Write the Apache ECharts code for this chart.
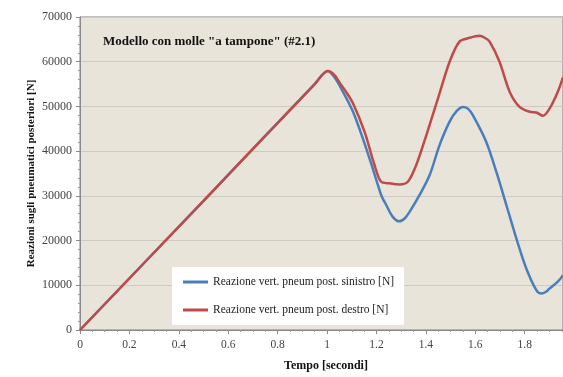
<!DOCTYPE html>
<html>
<head>
<meta charset="utf-8">
<script src="https://cdn.jsdelivr.net/npm/echarts@6/dist/echarts.min.js"></script>
<style>html,body{margin:0;padding:0;background:#fff}#c{width:563px;height:377px}</style>
</head>
<body>
<div id="c"></div>
<script>
const chartTitle = 'Modello con molle "a tampone" (#2.1)';
const xName = 'Tempo [secondi]';
const yName = 'Reazioni sugli pneumatici posteriori [N]';
const seriesNames = ['Reazione vert. pneum post. sinistro [N]', 'Reazione vert. pneum post. destro [N]'];

const tLeft = [0, 0.5, 0.95, 1.003, 1.03, 1.064, 1.105, 1.145, 1.185, 1.219, 1.24, 1.266, 1.293, 1.315, 1.334, 1.374, 1.415, 1.455, 1.496, 1.525, 1.55, 1.57, 1.59, 1.644, 1.685, 1.726, 1.766, 1.806, 1.847, 1.867, 1.885, 1.901, 1.934, 1.955];
const vLeft = [0, 28900, 55000, 57900, 56500, 53300, 48800, 42800, 36100, 30200, 27900, 25300, 24300, 25000, 26400, 30150, 34600, 41300, 46600, 49000, 49900, 49500, 48050, 42100, 35400, 27900, 20500, 13800, 8900, 8150, 8500, 9300, 10800, 12250];

const tRight = [0, 0.5, 0.95, 1.003, 1.03, 1.057, 1.08, 1.105, 1.152, 1.192, 1.219, 1.253, 1.293, 1.327, 1.361, 1.402, 1.449, 1.496, 1.536, 1.577, 1.617, 1.64, 1.658, 1.698, 1.739, 1.779, 1.82, 1.847, 1.874, 1.901, 1.934, 1.955];
const vRight = [0, 28900, 55000, 57900, 57000, 54800, 53000, 50700, 44300, 36900, 33150, 32800, 32550, 33150, 36900, 43600, 51800, 60000, 64500, 65350, 65800, 65300, 64500, 60000, 53300, 49900, 48800, 48650, 47900, 49550, 53300, 56500];

const pair = (ts, vs) => ts.map((t, i) => [t, vs[i]]);
const serif = '"Liberation Serif", "DejaVu Serif", serif';

const chart = echarts.init(document.getElementById('c'), null, {renderer: 'canvas'});
chart.setOption({
  backgroundColor: '#ffffff',
  animation: false,
  title: {
    text: chartTitle, left: 98, top: 30,
    textStyle: {fontFamily: serif, fontWeight: 'bold', fontSize: 13, color: '#111'}
  },
  grid: {
    left: 80, right: 0, top: 17, bottom: 45,
    show: true, backgroundColor: '#E8E4DA', borderColor: '#808080', borderWidth: 1
  },
  legend: {
    orient: 'vertical', left: 172, top: 267,
    backgroundColor: '#ffffff', padding: [8, 10, 8, 11], itemGap: 14,
    itemWidth: 25, itemHeight: 3, icon: 'rect',
    textStyle: {fontFamily: serif, fontSize: 11.5, color: '#222', lineHeight: 14},
    data: seriesNames
  },
  xAxis: {
    type: 'value', min: 0, max: 1.955, interval: 0.2,
    name: xName, nameLocation: 'middle', nameGap: 30, nameMoveOverlap: false,
    nameTextStyle: {fontFamily: serif, fontWeight: 'bold', fontSize: 12, color: '#111', padding: [0, 0, 0, 9]},
    axisLine: {show: true, lineStyle: {color: '#8a8a8a'}},
    axisTick: {show: true, length: 4, lineStyle: {color: '#8a8a8a'}},
    minorTick: {show: true, splitNumber: 4, length: 2, lineStyle: {color: '#999'}},
    axisLabel: {fontFamily: serif, fontSize: 11.5, color: '#444', margin: 9, showMaxLabel: false,
      formatter: v => String(Math.round(v * 10) / 10)},
    splitLine: {show: false}
  },
  yAxis: {
    type: 'value', min: 0, max: 70000, interval: 10000,
    name: yName, nameLocation: 'middle', nameGap: 43, nameMoveOverlap: false,
    nameTextStyle: {fontFamily: serif, fontWeight: 'bold', fontSize: 11, color: '#111'},
    axisLine: {show: true, lineStyle: {color: '#8a8a8a'}},
    axisTick: {show: true, length: 4, inside: false, lineStyle: {color: '#8a8a8a'}},
    minorTick: {show: true, splitNumber: 5, length: 2, lineStyle: {color: '#999'}},
    axisLabel: {fontFamily: serif, fontSize: 12, color: '#444', margin: 8, formatter: v => String(v)},
    splitLine: {show: true, lineStyle: {color: '#CFCBC1', width: 1}}
  },
  series: [
    {name: seriesNames[0], type: 'line', data: pair(tLeft, vLeft), symbol: 'none', smooth: 0.3,
     lineStyle: {color: '#4A7EBB', width: 2.5}, itemStyle: {color: '#4A7EBB'}, z: 2},
    {name: seriesNames[1], type: 'line', data: pair(tRight, vRight), symbol: 'none', smooth: 0.3,
     lineStyle: {color: '#BE4B48', width: 2.5}, itemStyle: {color: '#BE4B48'}, z: 3}
  ]
});
</script>
</body>
</html>
